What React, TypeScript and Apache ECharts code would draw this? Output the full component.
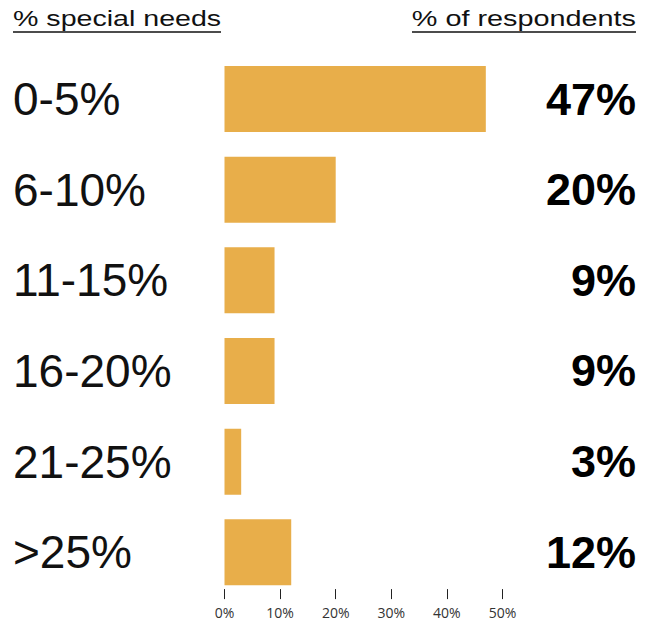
import React, { useEffect, useRef } from "react";
import * as echarts from "echarts";

const categories = ["0-5%", "6-10%", "11-15%", "16-20%", "21-25%", ">25%"];
const values = [47, 20, 9, 9, 3, 12];
const xTicks = [0, 10, 20, 30, 40, 50];
const leftHeader = "% special needs";
const rightHeader = "% of respondents";

export default function App() {
  const ref = useRef<HTMLDivElement>(null);
  useEffect(() => {
    if (!ref.current) return;
    const chart = echarts.init(ref.current, undefined, { renderer: "svg" });
    const W = 653;
    chart.setOption({
      animation: false,
      backgroundColor: "#ffffff",
      grid: { left: 224.5, right: W - 502.5, top: 53.7, bottom: 25.4, containLabel: false },
      xAxis: {
        type: "value",
        min: xTicks[0],
        max: xTicks[xTicks.length - 1],
        interval: 10,
        offset: 1.5,
        splitLine: { show: false },
        axisLine: { show: false },
        axisTick: { show: true, inside: true, length: 10, lineStyle: { color: "#222", width: 1 } },
        axisLabel: {
          margin: 6,
          formatter: (v: number) => v + "%",
          color: "#333",
          fontSize: 14,
          fontFamily: "Open Sans",
        },
      },
      yAxis: [
        {
          type: "category",
          data: categories,
          inverse: true,
          axisLine: { show: false },
          axisTick: { show: false },
          axisLabel: {
            align: "left",
            margin: 211.5,
            fontSize: 46,
            color: "#111",
            fontFamily: "Liberation Sans",
            padding: [0, 0, 5, 0],
          },
        },
        {
          type: "category",
          data: values.map((v) => v + "%"),
          inverse: true,
          position: "right",
          axisLine: { show: false },
          axisTick: { show: false },
          axisLabel: {
            align: "right",
            margin: 133.5,
            fontSize: 45,
            fontWeight: "bold",
            color: "#000",
            fontFamily: "Liberation Sans",
            padding: [0, 0, 5, 0],
          },
        },
      ],
      series: [
        {
          type: "bar",
          data: values,
          yAxisIndex: 0,
          barWidth: 66,
          itemStyle: { color: "#E8AE4A" },
          silent: true,
        },
      ],
      graphic: [
        {
          type: "text",
          x: 13,
          y: 18,
          scaleX: 1.3,
          style: {
            x: 0,
            y: 0,
            text: leftHeader,
            fill: "#111",
            font: "22px 'Liberation Sans'",
            textAlign: "left",
            textVerticalAlign: "middle",
          },
        },
        {
          type: "text",
          x: 636,
          y: 18,
          scaleX: 1.31,
          style: {
            x: 0,
            y: 0,
            text: rightHeader,
            fill: "#111",
            font: "22px 'Liberation Sans'",
            textAlign: "right",
            textVerticalAlign: "middle",
          },
        },
        {
          type: "line",
          shape: { x1: 13, y1: 32, x2: 221, y2: 32 },
          style: { stroke: "#111", lineWidth: 1.5 },
        },
        {
          type: "line",
          shape: { x1: 412, y1: 32, x2: 636, y2: 32 },
          style: { stroke: "#111", lineWidth: 1.5 },
        },
      ],
    });
    return () => chart.dispose();
  }, []);
  return <div ref={ref} style={{ width: 653, height: 623, position: "absolute", left: 0, top: 0 }} />;
}
